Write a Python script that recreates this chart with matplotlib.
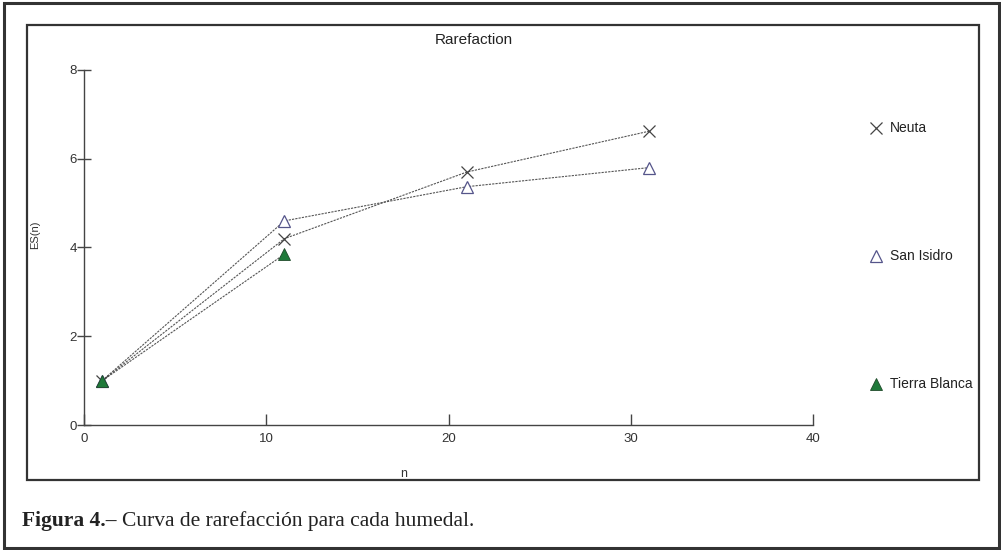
import matplotlib
matplotlib.use("Agg")
import matplotlib.pyplot as plt
from matplotlib.patches import Rectangle

# Rarefaction data
neuta_n = [1, 11, 21, 31]
neuta_es = [1.0, 4.2, 5.7, 6.62]
sanisidro_n = [1, 11, 21, 31]
sanisidro_es = [1.0, 4.6, 5.37, 5.8]
tierra_n = [1, 11]
tierra_es = [1.0, 3.85]

legend_labels = ["Neuta", "San Isidro", "Tierra Blanca"]
x_ticks = [0, 10, 20, 30, 40]
y_ticks = [0, 2, 4, 6, 8]

W, H = 1001, 550
fig = plt.figure(figsize=(W / 100, H / 100), dpi=100)
plt.rcParams['font.family'] = ['Liberation Sans', 'DejaVu Sans']

# frames around the plot and the whole figure
fig.add_artist(Rectangle((4 / W, 2 / H), 995 / W, 545 / H, transform=fig.transFigure,
                         fill=False, edgecolor='#333333', linewidth=2.2))
fig.add_artist(Rectangle((27 / W, 1 - 480 / H), 952 / W, 455 / H, transform=fig.transFigure,
                         fill=False, edgecolor='#333333', linewidth=1.6))

ax = fig.add_axes([84 / W, 1 - 425 / H, (813 - 84) / W, (425 - 70) / H])
line_style = dict(color='#555555', linestyle=(0, (2, 1)), linewidth=0.8)

ax.plot(neuta_n, neuta_es, **line_style)
ax.plot(sanisidro_n, sanisidro_es, **line_style)
ax.plot(tierra_n, tierra_es, **line_style)

ax.plot(neuta_n, neuta_es, linestyle='none', marker='x', markersize=9,
        markeredgecolor='#444444', markeredgewidth=0.9)
ax.plot(sanisidro_n, sanisidro_es, linestyle='none', marker='^', markersize=9,
        markerfacecolor='white', markeredgecolor='#55558a', markeredgewidth=0.9)
ax.plot(tierra_n, tierra_es, linestyle='none', marker='^', markersize=9,
        markerfacecolor='#1f7a3a', markeredgecolor='#1f4a2a', markeredgewidth=0.6)

ax.set_xlim(0, 40)
ax.set_ylim(0, 8)
ax.set_xticks(x_ticks)
ax.set_yticks(y_ticks)
for side in ['top', 'right']:
    ax.spines[side].set_visible(False)
for side in ['left', 'bottom']:
    ax.spines[side].set_color('#444444')
    ax.spines[side].set_linewidth(1.0)
ax.tick_params(axis='y', direction='inout', length=10, width=1.0, color='#444444',
               labelsize=9.5, labelcolor='#333333', pad=0)
ax.tick_params(axis='x', direction='in', length=8, width=1.0, color='#444444',
               labelsize=9.5, labelcolor='#333333', pad=6)
ax.set_xlabel('n', fontsize=9, color='#333333')
ax.xaxis.set_label_coords((404 - 84) / 729, -(468 - 425) / 355)
ax.set_ylabel('ES(n)', fontsize=8, color='#333333')
ax.yaxis.set_label_coords(-(84 - 40) / 729, (425 - 235) / 355)

fig.text(474 / W, 1 - 40 / H, 'Rarefaction', ha='center', va='center', fontsize=11,
         color='#222222')

# legend at the right side, as in the original plot
leg_y = [128, 256, 384]
leg_markers = [dict(marker='x', markeredgecolor='#444444', markeredgewidth=0.9),
               dict(marker='^', markerfacecolor='white', markeredgecolor='#55558a',
                    markeredgewidth=0.9),
               dict(marker='^', markerfacecolor='#1f7a3a', markeredgecolor='#1f4a2a',
                    markeredgewidth=0.6)]
for label, y, mk in zip(legend_labels, leg_y, leg_markers):
    fig.lines.append(plt.Line2D([876 / W], [1 - y / H], transform=fig.transFigure,
                                linestyle='none', markersize=8, **mk))
    fig.text(890 / W, 1 - y / H, label, ha='left', va='center', fontsize=10,
             color='#222222')

# caption: bold "Figura 4.–" followed by normal text
cap_y = 1 - 521 / H
t1 = fig.text(22 / W, cap_y, 'Figura 4.–', ha='left', va='center', fontsize=15.5,
              fontweight='bold', family='Liberation Serif', color='#222222')
fig.canvas.draw()
bb = t1.get_window_extent()
fig.text(bb.x1 / W + 5 / W, cap_y, 'Curva de rarefacción para cada humedal.', ha='left',
         va='center', fontsize=15.5, family='Liberation Serif', color='#222222')

fig.savefig('out.png', dpi=100)
